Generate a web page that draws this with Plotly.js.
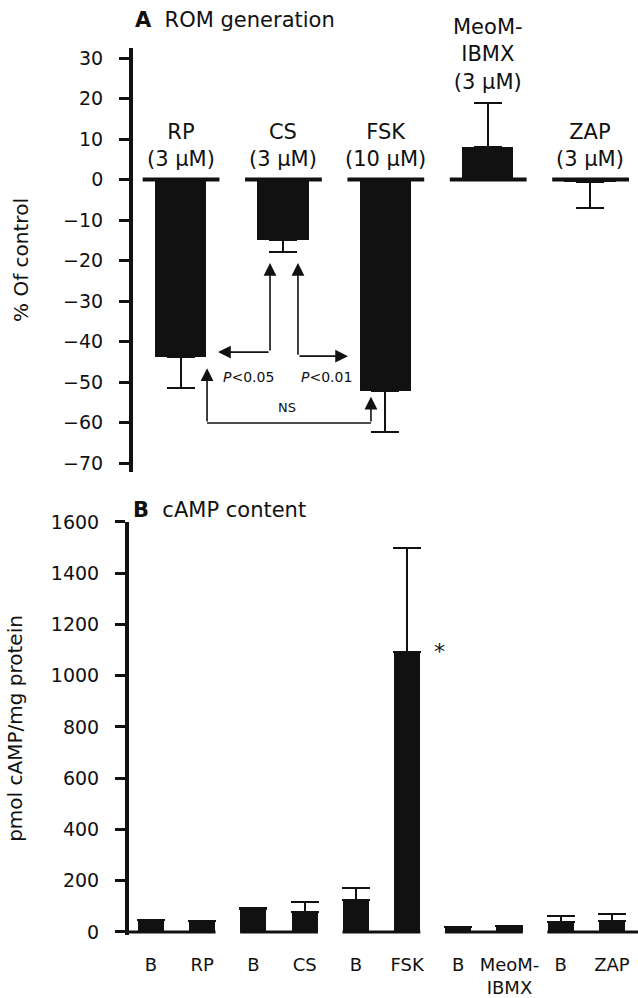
<!DOCTYPE html>
<html>
<head>
<meta charset="utf-8">
<script src="https://cdn.plot.ly/plotly-3.0.1.min.js"></script>
<style>html,body{margin:0;padding:0;background:#fff;}</style>
</head>
<body>
<div id="chart" style="width:638px;height:998px;"></div>
<script>
// ---- Panel A: ROM generation (% of control) ----
const romCategories = ['RP', 'CS', 'FSK', 'MeoM-IBMX', 'ZAP'];
const romLabels = ['RP<br>(3 μM)', 'CS<br>(3 μM)', 'FSK<br>(10 μM)', 'MeoM-<br>IBMX<br>(3 μM)', 'ZAP<br>(3 μM)'];
const romValues = [-43.8, -14.9, -52.2, 8.0, -0.5];
const romErrors = [7.7, 3.0, 10.1, 11.0, 6.4];

// ---- Panel B: cAMP content (pmol cAMP/mg protein) ----
const campLabels = ['B', 'RP', 'B', 'CS', 'B', 'FSK', 'B', 'MeoM-<br>IBMX', 'B', 'ZAP'];
const campValues = [45, 44, 90, 77, 125, 1094, 21, 25, 40, 44];
const campErrors = [0, 0, 3, 41, 45, 406, 0, 0, 24, 25];

const romTicks = [-70, -60, -50, -40, -30, -20, -10, 0, 10, 20, 30];
const campTicks = [0, 200, 400, 600, 800, 1000, 1200, 1400, 1600];

const FONT = 'DejaVu Sans, Arial, sans-serif';
const romX = romCategories.map((_, i) => i);
const campX = campLabels.map((_, i) => i);

const traceA = {
  type: 'bar', x: romX, y: romValues, xaxis: 'x', yaxis: 'y',
  width: 0.5, marker: {color: '#111', line: {width: 0}},
  error_y: {
    type: 'data', symmetric: false,
    array: romValues.map((v, i) => v >= 0 ? romErrors[i] : 0),
    arrayminus: romValues.map((v, i) => v < 0 ? romErrors[i] : 0),
    color: '#111', thickness: 2, width: 14
  },
  hoverinfo: 'skip'
};

const traceB = {
  type: 'bar', x: campX, y: campValues, xaxis: 'x2', yaxis: 'y2',
  width: 0.51, marker: {color: '#111', line: {width: 0}},
  error_y: {
    type: 'data', symmetric: false,
    array: campErrors, arrayminus: campValues.map(() => 0),
    color: '#111', thickness: 2, width: 14
  },
  hoverinfo: 'skip'
};

const topRange = [-0.464, 4.468];
const botRange = [-0.43, 9.51];

const shapes = [];
// zero baseline segments under each group (panel A)
romX.forEach(i => {
  shapes.push({type: 'line', xref: 'x', yref: 'y', x0: i - 0.37, x1: i + 0.38, y0: 0, y1: 0,
    line: {color: '#111', width: 4}});
});
// zero baseline segments under each B/treatment pair (panel B)
for (let k = 0; k < campX.length / 2; k++) {
  shapes.push({type: 'line', xref: 'x2', yref: 'y2',
    x0: k === 0 ? botRange[0] : 2 * k - 0.26,
    x1: k === campX.length / 2 - 1 ? botRange[1] : 2 * k + 1.26,
    y0: 0, y1: 0, line: {color: '#111', width: 3}});
}
// NS bracket horizontal segment
shapes.push({type: 'line', xref: 'x', yref: 'y', x0: 0.259, x1: 1.86, y0: -60.1, y1: -60.1,
  line: {color: '#111', width: 1.5}});

const annotations = [];
// group labels above panel A bars
romX.forEach(i => {
  annotations.push({xref: 'x', yref: 'y', x: i, y: Math.max(0, romValues[i] + (romValues[i] >= 0 ? romErrors[i] : 0)),
    yanchor: 'bottom', yshift: 7, text: romLabels[i], showarrow: false,
    font: {family: FONT, size: 21, color: '#111'}});
});
function arrow(x, y, ax, ay) {
  return {xref: 'x', yref: 'y', axref: 'x', ayref: 'y', x: x, y: y, ax: ax, ay: ay, text: '',
    showarrow: true, arrowhead: 2, arrowsize: 1.6, arrowwidth: 1.6, arrowcolor: '#111', standoff: 0, startstandoff: 0};
}
// P<0.05 bracket (RP vs CS)
annotations.push(arrow(0.874, -20.6, 0.874, -42.6));
annotations.push(arrow(0.366, -42.6, 0.874, -42.6));
// P<0.01 bracket (CS vs FSK)
annotations.push(arrow(1.147, -20.6, 1.147, -43.6));
annotations.push(arrow(1.636, -43.6, 1.147, -43.6));
// NS bracket (RP vs FSK)
annotations.push(arrow(0.259, -46.6, 0.259, -60.1));
annotations.push(arrow(1.86, -53.6, 1.86, -60.1));
annotations.push({xref: 'x', yref: 'y', x: 0.659, y: -48.8, text: '<i>P</i>&lt;0.05', showarrow: false,
  font: {family: FONT, size: 14, color: '#111'}});
annotations.push({xref: 'x', yref: 'y', x: 1.421, y: -48.8, text: '<i>P</i>&lt;0.01', showarrow: false,
  font: {family: FONT, size: 14, color: '#111'}});
annotations.push({xref: 'x', yref: 'y', x: 1.04, y: -56.2, text: 'NS', showarrow: false,
  font: {family: FONT, size: 13, color: '#111'}});
// asterisk next to FSK in panel B
annotations.push({xref: 'x2', yref: 'y2', x: 5.64, y: campValues[5], text: '*', showarrow: false,
  font: {family: FONT, size: 22, color: '#111'}});
// panel titles
annotations.push({xref: 'paper', yref: 'paper', x: 0.008, y: 0.980, xanchor: 'left', yanchor: 'middle',
  text: '<b>A</b>  ROM generation', showarrow: false, font: {family: FONT, size: 21, color: '#111'}});
annotations.push({xref: 'paper', yref: 'paper', x: 0.004, y: 0.489, xanchor: 'left', yanchor: 'middle',
  text: '<b>B</b>  cAMP content', showarrow: false, font: {family: FONT, size: 21, color: '#111'}});

const axisY = {
  showline: true, linewidth: 4, linecolor: '#111', ticks: 'outside', ticklen: 10, tickwidth: 3,
  tickcolor: '#111', showgrid: false, zeroline: false, ticklabelstandoff: 12,
  tickfont: {family: FONT, size: 19, color: '#111'}, automargin: false
};

const layout = {
  width: 638, height: 998,
  margin: {l: 129, r: 0, t: 0, b: 0},
  paper_bgcolor: '#fff', plot_bgcolor: '#fff',
  showlegend: false, bargap: 0,
  font: {family: FONT, color: '#111'},
  xaxis: {domain: [0.0079, 1], range: topRange, anchor: 'y', showticklabels: false, ticks: '',
    showline: false, showgrid: false, zeroline: false, fixedrange: true},
  yaxis: Object.assign({}, axisY, {domain: [0.5271, 0.9519], range: [-72.2, 32.5], tickvals: romTicks,
    anchor: 'x', title: {text: '% Of control', standoff: 30, font: {family: FONT, size: 20, color: '#111'}}}),
  xaxis2: {domain: [0, 1], range: botRange, anchor: 'y2', tickvals: campX, ticktext: campLabels,
    ticks: '', showline: false, showgrid: false, zeroline: false, ticklabelstandoff: 17,
    tickfont: {family: FONT, size: 18, color: '#111'}, automargin: false},
  yaxis2: Object.assign({}, axisY, {domain: [0.0631, 0.4770], range: [-12, 1600], tickvals: campTicks,
    anchor: 'x2', title: {text: 'pmol cAMP/mg protein', standoff: 24, font: {family: FONT, size: 20, color: '#111'}}}),
  shapes: shapes,
  annotations: annotations
};

Plotly.newPlot('chart', [traceA, traceB], layout, {staticPlot: true, displayModeBar: false});
</script>
</body>
</html>
